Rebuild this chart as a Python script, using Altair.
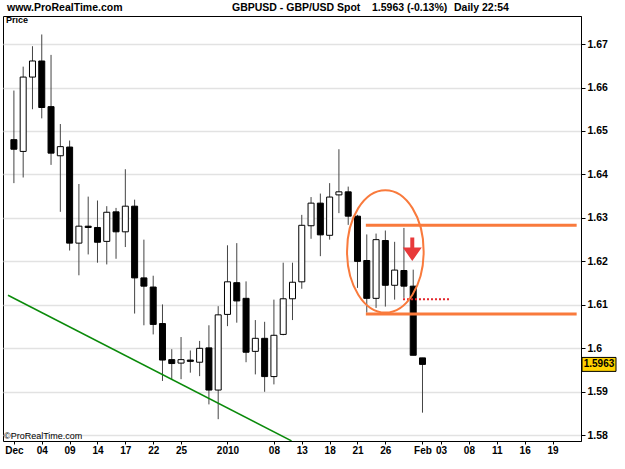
import json
import altair as alt
import pandas as pd

# ---- daily candles, 1 Dec 2009 .. 1 Feb 2010 (one entry per weekday) ----
opens = [1.6480, 1.6453, 1.6624, 1.6661, 1.6556, 1.6443, 1.6463, 1.6242, 1.6281, 1.6278,
         1.6246, 1.6314, 1.6268, 1.6327, 1.6162, 1.6141, 1.6057, 1.5974, 1.5966, 1.5973,
         1.5968, 1.6001, 1.5904, 1.6078, 1.6151, 1.6115, 1.5993, 1.6023, 1.5935, 1.6032,
         1.6114, 1.6153, 1.6282, 1.6334, 1.6260, 1.6353, 1.6360, 1.6304, 1.6202, 1.6115,
         1.6248, 1.6145, 1.6179, 1.6143, 1.5978]
highs = [1.6593, 1.6648, 1.6695, 1.6722, 1.6675, 1.6516, 1.6478, 1.6378, 1.6349, 1.6340,
         1.6327, 1.6323, 1.6412, 1.6342, 1.6250, 1.6167, 1.6101, 1.5998, 1.6026, 1.5995,
         1.6017, 1.6053, 1.6097, 1.6237, 1.6242, 1.6154, 1.6065, 1.6061, 1.6112, 1.6197,
         1.6197, 1.6307, 1.6348, 1.6356, 1.6380, 1.6458, 1.6372, 1.6307, 1.6262, 1.6264,
         1.6271, 1.6245, 1.6277, 1.6181, 1.5978]
lows = [1.6380, 1.6393, 1.6550, 1.6529, 1.6422, 1.6314, 1.6225, 1.6168, 1.6216, 1.6197,
        1.6193, 1.6206, 1.6233, 1.6080, 1.6053, 1.6032, 1.5925, 1.5929, 1.5929, 1.5944,
        1.5936, 1.5871, 1.5837, 1.6051, 1.6059, 1.5968, 1.5940, 1.5900, 1.5917, 1.6030,
        1.6065, 1.6137, 1.6252, 1.6212, 1.6250, 1.6311, 1.6284, 1.6139, 1.6082, 1.6093,
        1.6096, 1.6112, 1.6116, 1.5984, 1.5852]
closes = [1.6458, 1.6624, 1.6661, 1.6554, 1.6449, 1.6464, 1.6242, 1.6281, 1.6278, 1.6244,
          1.6313, 1.6268, 1.6327, 1.6162, 1.6143, 1.6055, 1.5973, 1.5965, 1.5974, 1.5970,
          1.6000, 1.5904, 1.6077, 1.6153, 1.6109, 1.5991, 1.6023, 1.5935, 1.6030, 1.6114,
          1.6152, 1.6283, 1.6334, 1.6261, 1.6348, 1.6360, 1.6304, 1.6200, 1.6115, 1.6250,
          1.6145, 1.6180, 1.6143, 1.5984, 1.5963]

# ---- axis ticks (x = weekday index from 1 Dec 2009) ----
tick_idx = [0, 3, 6, 9, 12, 15, 18, 23, 28, 31, 34, 37, 40, 44, 46, 49, 52, 55, 58]
tick_labels = ["Dec", "04", "09", "14", "17", "22", "25", "2010", "08", "13", "18",
               "21", "26", "Feb", "03", "08", "11", "16", "19"]
price_ticks = [1.58, 1.59, 1.60, 1.61, 1.62, 1.63, 1.64, 1.65, 1.66, 1.67]
x_domain = [-0.635, 60.53]
y_domain = [1.57868, 1.67645]

# ---- drawn annotations ----
trend_x = [-0.635, 29.9]
trend_y = [1.6122, 1.5787]
range_levels = [1.6283, 1.6079]
range_x = [37.9, 60.6]
ellipse_x = [40.0]
ellipse_y = [1.6223]
arrow_x = [42.9]
arrow_y = [1.6228]
stop_x = [41.9, 47.0]
stop_y = [1.6113, 1.6113]

header_left = "www.ProRealTime.com"
header_parts = ["GBPUSD - GBP/USD Spot", "1.5963 (-0.13%)", "Daily  22:54"]

FONT = "Liberation Sans Narrow, Arial Narrow, Liberation Sans, Arial, sans-serif"
ORANGE = "#F97A3C"

df = pd.DataFrame({"i": list(range(len(opens))), "open": opens, "high": highs,
                   "low": lows, "close": closes})

xs = alt.Scale(domain=x_domain, nice=False, zero=False)
ys = alt.Scale(domain=y_domain, nice=False, zero=False)

label_expr = f"{json.dumps(tick_labels)}[indexof({json.dumps(tick_idx)}, datum.value)]"
x_axis = alt.Axis(values=tick_idx, labelExpr=label_expr, grid=False, title=None,
                  tickSize=3, labelPadding=1, domain=False, labelFont=FONT,
                  labelFontWeight="bold", labelFontSize=10, labelColor="black",
                  tickColor="black", labelFlush=10, labelOverlap=False)
y_axis = alt.Axis(orient="right", values=price_ticks, format=".3~r", grid=True,
                  gridColor="#E2E2E2", gridWidth=1.5, title=None, tickSize=4,
                  labelPadding=2, domainColor="black", tickColor="black",
                  labelFont=FONT, labelFontWeight="bold", labelFontSize=10.5,
                  labelColor="black", labelOverlap=False)

X = alt.X("i:Q", scale=xs, axis=x_axis)

base = alt.Chart(df)
wicks = base.mark_rule(color="#444444", strokeWidth=1).encode(
    x=X, y=alt.Y("low:Q", scale=ys, axis=y_axis), y2="high:Q")
bodies = base.mark_bar(size=6, stroke="black", strokeWidth=1).encode(
    x=X, y=alt.Y("open:Q", scale=ys, axis=y_axis), y2="close:Q",
    fill=alt.condition("datum.close > datum.open", alt.value("white"), alt.value("black")))

trend = alt.Chart(pd.DataFrame({"x": trend_x, "y": trend_y})).mark_line(
    color="#0A8A0A", strokeWidth=1.5, clip=True).encode(
    x=alt.X("x:Q", scale=xs, axis=x_axis), y=alt.Y("y:Q", scale=ys, axis=y_axis))

levels = alt.Chart(pd.DataFrame({"y": range_levels, "x": [range_x[0]] * 2,
                                 "x2": [range_x[1]] * 2})).mark_rule(
    color=ORANGE, strokeWidth=3, clip=True).encode(
    x=alt.X("x:Q", scale=xs, axis=x_axis), x2="x2:Q", y=alt.Y("y:Q", scale=ys, axis=y_axis))

ellipse_path = ("M 0 -1 C 0.3457 -1 0.626 -0.5523 0.626 0 C 0.626 0.5523 0.3457 1 0 1 "
                "C -0.3457 1 -0.626 0.5523 -0.626 0 C -0.626 -0.5523 -0.3457 -1 0 -1 Z")
ellipse = alt.Chart(pd.DataFrame({"x": ellipse_x, "y": ellipse_y})).mark_point(
    shape=ellipse_path, size=14982, filled=False, stroke=ORANGE, strokeWidth=2,
    opacity=1).encode(x=alt.X("x:Q", scale=xs, axis=x_axis),
                      y=alt.Y("y:Q", scale=ys, axis=y_axis))

arrow_path = "M -0.17 -1 L 0.17 -1 L 0.17 -0.14 L 0.81 -0.14 L 0 1 L -0.81 -0.14 L -0.17 -0.14 Z"
arrow = alt.Chart(pd.DataFrame({"x": arrow_x, "y": arrow_y})).mark_point(
    shape=arrow_path, size=548, filled=True, fill="#E8393A", strokeWidth=0,
    opacity=1).encode(x=alt.X("x:Q", scale=xs, axis=x_axis),
                      y=alt.Y("y:Q", scale=ys, axis=y_axis))

stop = alt.Chart(pd.DataFrame({"x": stop_x, "y": stop_y})).mark_line(
    color="#E3262B", strokeWidth=2, strokeDash=[2, 2]).encode(
    x=alt.X("x:Q", scale=xs, axis=x_axis), y=alt.Y("y:Q", scale=ys, axis=y_axis))

last = pd.DataFrame({"y": [closes[-1]], "t": [f"{closes[-1]:.4f}"]})
tag_box = alt.Chart(last).mark_point(
    shape="M -1 -0.41 L 1 -0.41 L 1 0.41 L -1 0.41 Z", size=1156, filled=True,
    fill="#FFD200", stroke="black", strokeWidth=1, opacity=1).encode(
    x=alt.value(596), y=alt.Y("y:Q", scale=ys, axis=y_axis))
tag_text = alt.Chart(last).mark_text(
    font=FONT, fontSize=10, fontWeight="bold", color="black", align="center",
    baseline="middle").encode(x=alt.value(596), y=alt.Y("y:Q", scale=ys, axis=y_axis),
                              text="t:N")


def label(txt, x, y, size, weight="bold", align="left"):
    return alt.Chart(pd.DataFrame({"t": [txt]})).mark_text(
        font=FONT, fontSize=size, fontWeight=weight, color="black", align=align,
        baseline="middle").encode(x=alt.value(x), y=alt.value(y), text="t:N")


texts = [
    label(header_left, 4, -8, 10.5),
    label(header_parts[0], 229, -8, 10.5),
    label(header_parts[1], 369, -8, 10.5),
    label(header_parts[2], 451, -8, 10.5),
    label("Price", 3, 4, 9),
    label("\u00a9ProRealTime.com", 1, 420, 9, weight="normal"),
]

chart = alt.layer(wicks, trend, bodies, levels, stop, ellipse, arrow, tag_box, tag_text,
                  *texts).properties(
    width=578, height=425,
    padding={"left": 3, "top": 16, "right": 44, "bottom": 28},
    autosize=alt.AutoSizeParams(type="none"),
    background="white",
).configure_view(stroke="black", strokeWidth=1).configure_axis(labelOverlap=False)

chart.save("out.html", embed_options={"renderer": "svg", "actions": False})
